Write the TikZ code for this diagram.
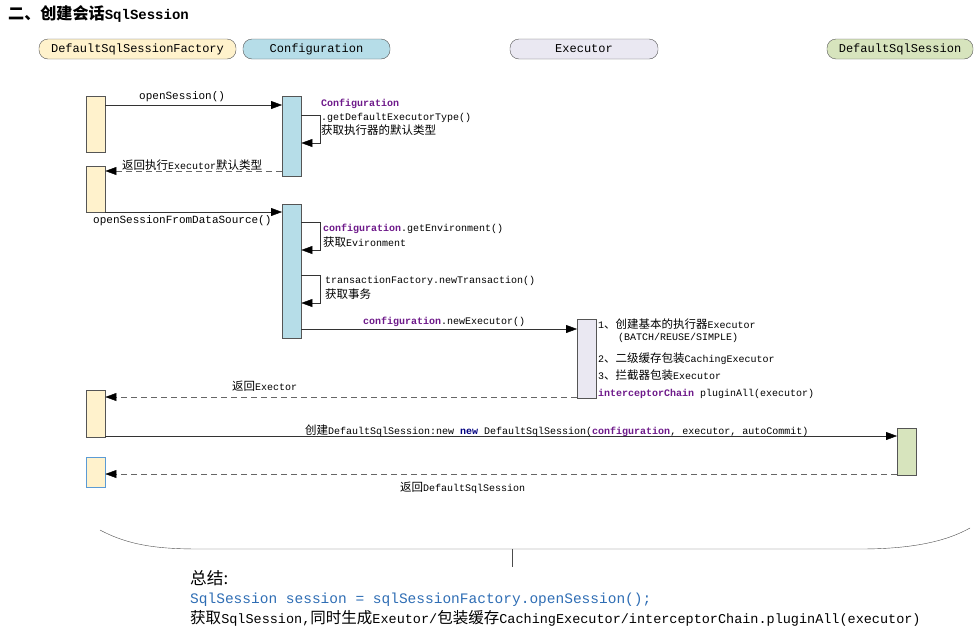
\documentclass[tikz,border=0pt]{standalone}
\usepackage{fontspec}
\setmainfont{Liberation Mono}
\newfontfamily\cjk[Scale=1.15]{Noto Sans CJK SC}
\usetikzlibrary{arrows.meta}
\definecolor{factfill}{HTML}{FFF2CC}
\definecolor{conffill}{HTML}{B6DDE8}
\definecolor{execfill}{HTML}{EAE8F2}
\definecolor{sessfill}{HTML}{D7E4BD}
\definecolor{edge}{HTML}{555555}
\definecolor{f4edge}{HTML}{5B9BD5}
\definecolor{kwpurple}{HTML}{6E1A8A}
\definecolor{kwnavy}{HTML}{000080}
\definecolor{sumblue}{HTML}{2E6DB4}
\begin{document}
\begin{tikzpicture}[x=1pt,y=-1pt,
    head/.style={draw=edge,rounded corners=9pt,minimum height=20pt,inner sep=0pt,font=\fontsize{12}{14}\selectfont},
    act/.style={draw=edge,anchor=north west,minimum width=19pt,inner sep=0pt},
    msg/.style={draw=black!80,-{Triangle[length=11pt,width=8pt,black]}},
    ret/.style={msg,draw=black!60,dash pattern=on 6pt off 4pt},
    lbl/.style={anchor=west,inner sep=0pt,font=\fontsize{10}{14}\selectfont,align=left}]
\useasboundingbox (0,0) rectangle (976,635);
% title and heads
\node[anchor=west,inner sep=0pt,font=\fontsize{14}{16}\selectfont\bfseries] (title) at (8,14) {{\cjk 二、创建会话}SqlSession};
\node[head,fill=factfill,minimum width=197pt] (hfact) at (137.5,49) {DefaultSqlSessionFactory};
\node[head,fill=conffill,minimum width=147pt] (hconf) at (316.5,49) {Configuration};
\node[head,fill=execfill,minimum width=148pt] (hexec) at (584,49) {Executor};
\node[head,fill=sessfill,minimum width=146pt] (hsess) at (900,49) {DefaultSqlSession};
% activations
\node[act,fill=factfill,minimum height=56pt] (f1) at (86,96) {};
\node[act,fill=conffill,minimum height=80pt] (c1) at (282,96) {};
\node[act,fill=factfill,minimum height=46pt] (f2) at (86,166) {};
\node[act,fill=conffill,minimum height=134pt] (c2) at (282,204) {};
\node[act,fill=execfill,minimum height=79pt] (e1) at (577,319) {};
\node[act,fill=factfill,minimum height=47pt] (f3) at (86,390) {};
\node[act,fill=sessfill,minimum height=47pt] (d1) at (897,428) {};
\node[act,fill=factfill,draw=f4edge,minimum height=30pt] (f4) at (86,457) {};
% message rows
\coordinate (m1) at (0,105);\coordinate (s1a) at (0,115);\coordinate (s1b) at (0,143);
\coordinate (m2) at (0,171);\coordinate (m3) at (0,212);
\coordinate (s2a) at (0,222);\coordinate (s2b) at (0,250);
\coordinate (s3a) at (0,275);\coordinate (s3b) at (0,303);
\coordinate (m4) at (0,329);\coordinate (m5) at (0,397);
\coordinate (m6) at (0,436);\coordinate (m7) at (0,474);
\draw[msg] (m1-|f1.east) -- (m1-|c1.west);
\draw[msg] (s1a-|c1.east) -- ++(19,0) |- (s1b-|c1.east);
\draw[ret] (m2-|c1.west) -- (m2-|f2.east);
\draw[msg] (m3-|f2.east) -- (m3-|c2.west);
\draw[msg] (s2a-|c2.east) -- ++(19,0) |- (s2b-|c2.east);
\draw[msg] (s3a-|c2.east) -- ++(19,0) |- (s3b-|c2.east);
\draw[msg] (m4-|c2.east) -- (m4-|e1.west);
\draw[ret] (m5-|e1.west) -- (m5-|f3.east);
\draw[msg] (m6-|f3.east) -- (m6-|d1.west);
\draw[ret] (m7-|d1.west) -- (m7-|f4.east);
% labels
\node[lbl,font=\fontsize{11}{14}\selectfont] (l1) at (139,97) {openSession()};
\node[lbl,anchor=north west] (l2) at (321,99) {\textcolor{kwpurple}{\bfseries Configuration}\\.getDefaultExecutorType()\\{\cjk 获取执行器的默认类型}};
\node[lbl] (l3) at (122,165) {{\cjk 返回执行}Executor{\cjk 默认类型}};
\node[lbl,font=\fontsize{11}{14}\selectfont] (l4) at (93,221) {openSessionFromDataSource()};
\node[lbl,anchor=north west] (l5) at (323,224) {\textcolor{kwpurple}{\bfseries configuration}.getEnvironment()\\[1pt]{\cjk 获取}Evironment};
\node[lbl,anchor=north west] (l6) at (325,276) {transactionFactory.newTransaction()\\[1pt]{\cjk 获取事务}};
\node[lbl] (l7) at (363,322) {\textcolor{kwpurple}{\bfseries configuration}.newExecutor()};
\node[lbl] (e1a) at (598,324) {1{\cjk 、创建基本的执行器}Executor};
\node[lbl] (e1b) at (618,338) {(BATCH/REUSE/SIMPLE)};
\node[lbl] (e1c) at (598,359) {2{\cjk 、二级缓存包装}CachingExecutor};
\node[lbl] (e1d) at (598,375) {3{\cjk 、拦截器包装}Executor};
\node[lbl] (e1e) at (598,394) {\textcolor{kwpurple}{\bfseries interceptorChain} pluginAll(executor)};
\node[lbl] (l8) at (232,386) {{\cjk 返回}Exector};
\node[lbl] (l9) at (305,431) {{\cjk 创建}DefaultSqlSession:new \textcolor{kwnavy}{\bfseries new} DefaultSqlSession(\textcolor{kwpurple}{\bfseries configuration}, executor, autoCommit)};
\node[lbl] (l10) at (400,488) {{\cjk 返回}DefaultSqlSession};
% brace and summary
\draw[black!70] (100,530) .. controls (130,546) and (160,549) .. (200,549) -- (860,549) .. controls (910,549) and (945,542) .. (970,528);
\draw[black!70] (512,549) -- (512,567);
\node[anchor=west,inner sep=0pt,font=\fontsize{14.5}{16}\selectfont] (sum1) at (190,578) {{\cjk 总结:}};
\node[anchor=west,inner sep=0pt,font=\fontsize{14.5}{16}\selectfont,text=sumblue] (sum2) at (190,600) {SqlSession session = sqlSessionFactory.openSession();};
\node[anchor=west,inner sep=0pt,font=\fontsize{13.5}{16}\selectfont] (sum3) at (190,618) {{\cjk 获取}SqlSession,{\cjk 同时生成}Exeutor/{\cjk 包装缓存}CachingExecutor/interceptorChain.pluginAll(executor)};
\end{tikzpicture}
\end{document}
